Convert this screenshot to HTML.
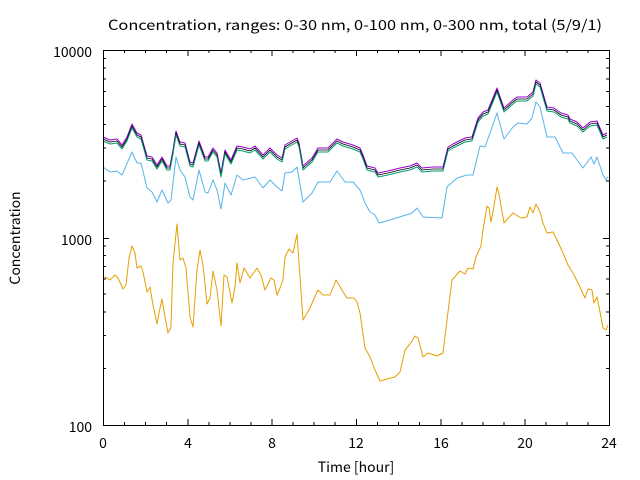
<!DOCTYPE html>
<html><head><meta charset="utf-8"><style>body{margin:0;background:#fff}svg{display:block}</style></head><body>
<svg width="640" height="480" xmlns="http://www.w3.org/2000/svg" font-family="Noto Sans CJK JP, DejaVu Sans, sans-serif" font-size="14">
<rect width="640" height="480" fill="#fff"/>
<g fill="none" stroke-width="1" stroke-linejoin="round">
<polyline stroke="#e69f00" points="103,277 107,278 110,280 115,275 118,278 123,289 126,285 129,258 132,246 135,253 137,268 141,266 143,272 147,292 150,287 153,305 157,324 159,313 162,299 165,317 168,333 171,327 173,263 177,224 180,260 183,258 186,268 190,317 193,327 197,270 200,250 203,265 207,304 210,298 213,271 217,290 221,326 224,275 227,277 232,303 235,287 237,263 240,283 244,268 250,278 257,268 261,275 265,290 271,278 274,280 277,295 280,288 283,280 285,257 289,249 293,253 297,234 300,277 303,320 309,310 318,290 323,295 330,295 336,280 342,290 347,298 354,298 357,302 360,313 365,348 370,357 375,370 380,381 387,379 395,377 400,372 405,350 410,344 415,336 418,338 423,357 428,353 437,356 443,353 447,320 452,280 460,271 465,274 468,268 473,269 476,257 481,246 483,230 487,206 489,208 491,222 493,212 497,187 499,194 504,223 513,213 521,218 527,217 530,207 533,213 536,204 540,212 543,223 547,233 553,232 558,242 563,253 568,265 573,273 580,287 585,298 588,289 592,290 594,303 597,297 600,312 603,328 606,330 608,325"/>
<polyline stroke="#56b4e9" points="103,167 110,172 117,171 122,175 132,152 137,163 141,163 147,188 152,192 157,202 162,190 168,203 171,200 176,157 180,170 185,177 190,197 193,200 199,170 205,192 208,193 213,180 217,190 221,209 225,183 231,195 237,175 243,180 255,177 263,188 270,180 277,187 282,191 285,173 292,172 297,167 303,202 312,193 318,182 330,182 337,171 345,182 353,182 360,190 365,203 370,212 375,215 379,223 390,220 412,213 417,208 423,217 442,218 447,187 457,178 467,175 473,175 480,146 485,147 490,133 497,113 504,139 513,127 518,123 527,124 532,118 536,102 540,107 547,137 555,137 563,153 572,153 577,160 583,168 591,157 594,164 597,157 603,175 606,180 608,177"/>
<polyline stroke="#9400d3" points="103,137 110,140 117,139 122,145 127,137 132,124 137,133 141,135 147,156 152,157 157,165 162,157 167,166 170,166 173,150 176,131 180,142 185,143 190,162 193,163 199,141 205,157 208,157 213,148 217,153 221,173 225,150 231,160 237,146 243,147 250,149 255,146 263,155 270,148 277,155 282,158 285,145 290,142 297,138 299,143 303,166 312,158 318,148 328,148 337,139 343,142 353,145 360,148 363,155 367,166 375,168 378,173 388,171 400,168 410,166 417,163 422,168 433,167 443,167 448,147 453,144 465,138 472,137 478,118 483,112 488,110 497,88 504,108 513,100 517,97 527,97 533,92 536,80 540,83 547,107 554,108 561,113 568,115 570,119 577,122 583,128 590,122 597,121 603,135 607,133"/>
<polyline stroke="#000" stroke-width="0.8" transform="translate(0,2)" points="103,137 110,140 117,139 122,145 127,137 132,124 137,133 141,135 147,156 152,157 157,165 162,157 167,166 170,166 173,150 176,131 180,142 185,143 190,162 193,163 199,141 205,157 208,157 213,148 217,153 221,173 225,150 231,160 237,146 243,147 250,149 255,146 263,155 270,148 277,155 282,158 285,145 290,142 297,138 299,143 303,166 312,158 318,148 328,148 337,139 343,142 353,145 360,148 363,155 367,166 375,168 378,173 388,171 400,168 410,166 417,163 422,168 433,167 443,167 448,147 453,144 465,138 472,137 478,118 483,112 488,110 497,88 504,108 513,100 517,97 527,97 533,92 536,80 540,83 547,107 554,108 561,113 568,115 570,119 577,122 583,128 590,122 597,121 603,135 607,133"/>
<polyline stroke="#009e73" transform="translate(0,4)" points="103,137 110,140 117,139 122,145 127,137 132,124 137,133 141,135 147,156 152,157 157,165 162,157 167,166 170,166 173,150 176,131 180,142 185,143 190,162 193,163 199,141 205,157 208,157 213,148 217,153 221,173 225,150 231,160 237,146 243,147 250,149 255,146 263,155 270,148 277,155 282,158 285,145 290,142 297,138 299,143 303,166 312,158 318,148 328,148 337,139 343,142 353,145 360,148 363,155 367,166 375,168 378,173 388,171 400,168 410,166 417,163 422,168 433,167 443,167 448,147 453,144 465,138 472,137 478,118 483,112 488,110 497,88 504,108 513,100 517,97 527,97 533,92 536,80 540,83 547,107 554,108 561,113 568,115 570,119 577,122 583,128 590,122 597,121 603,135 607,133"/>
</g>
<g stroke="#000" stroke-width="1" fill="none">
<rect x="103.5" y="50.5" width="506" height="375"/>
<path d="M103.5,425v-6M103.5,50v6M188,425v-6M188,50v6M272,425v-6M272,50v6M356.5,425v-6M356.5,50v6M441,425v-6M441,50v6M525,425v-6M525,50v6M609.5,425v-6M609.5,50v6
M124.5,425v-3M124.5,50v3M145.5,425v-3M145.5,50v3M166.5,425v-3M166.5,50v3M209,425v-3M209,50v3M230,425v-3M230,50v3M251,425v-3M251,50v3M293,425v-3M293,50v3M314,425v-3M314,50v3M335,425v-3M335,50v3M377.5,425v-3M377.5,50v3M398.5,425v-3M398.5,50v3M419.5,425v-3M419.5,50v3M462,425v-3M462,50v3M483,425v-3M483,50v3M504,425v-3M504,50v3M546,425v-3M546,50v3M567,425v-3M567,50v3M588,425v-3M588,50v3
M103,238.5h6M609,238.5h-6"/>
<path d="M103,368.5h3M103,335.5h3M103,312h3M103,294h3M103,279h3M103,266.5h3M103,255.5h3M103,246h3M103,181h3M103,148h3M103,124.5h3M103,106.5h3M103,91.5h3M103,79h3M103,68h3M103,58.5h3M609,368.5h-3M609,335.5h-3M609,312h-3M609,294h-3M609,279h-3M609,266.5h-3M609,255.5h-3M609,246h-3M609,181h-3M609,148h-3M609,124.5h-3M609,106.5h-3M609,91.5h-3M609,79h-3M609,68h-3M609,58.5h-3"/>
</g>
<g fill="#000" text-anchor="end">
<text x="92" y="57">10000</text><text x="92" y="245">1000</text><text x="92" y="432">100</text>
</g>
<g fill="#000" text-anchor="middle">
<text x="103" y="448">0</text><text x="188" y="448">4</text><text x="272" y="448">8</text><text x="356" y="448">12</text><text x="441" y="448">16</text><text x="525" y="448">20</text><text x="609" y="448">24</text>
<text x="356" y="472">Time [hour]</text>
<text transform="translate(20,238) rotate(-90)">Concentration</text>
</g>
<text x="108" y="30" font-size="14" textLength="494" lengthAdjust="spacingAndGlyphs" fill="#000">Concentration, ranges: 0-30 nm, 0-100 nm, 0-300 nm, total (5/9/1)</text>
</svg>
</body></html>
